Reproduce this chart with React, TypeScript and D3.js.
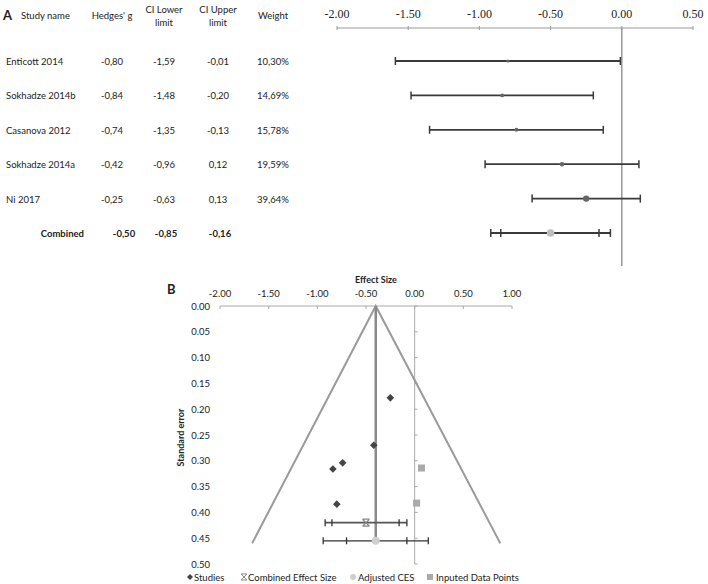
import React from "react";
import * as d3 from "d3";

// Panel A data
const studies = ["Enticott 2014", "Sokhadze 2014b", "Casanova 2012", "Sokhadze 2014a", "Ni 2017"];
const hedges = [-0.8, -0.84, -0.74, -0.42, -0.25];
const ciLower = [-1.59, -1.48, -1.35, -0.96, -0.63];
const ciUpper = [-0.01, -0.2, -0.13, 0.12, 0.13];
const weights = [10.3, 14.69, 15.78, 19.59, 39.64];
const combined = { g: -0.5, lo: -0.85, hi: -0.16, loOuter: -0.92, hiOuter: -0.08 };
const axisATicks = [-2, -1.5, -1, -0.5, 0, 0.5];

// Panel B data (funnel plot)
const studySE = [0.384, 0.316, 0.304, 0.27, 0.178];
const imputedES = [0.07, 0.02];
const imputedSE = [0.314, 0.382];
const combinedSE = 0.42;
const adjusted = { es: -0.4, se: 0.455, lo: -0.94, loInner: -0.7, hiInner: -0.08, hi: 0.14 };
const funnel: [number, number][] = [[-1.67, 0.46], [-0.4, 0], [0.88, 0.46]];
const axisBXTicks = [-2, -1.5, -1, -0.5, 0, 0.5, 1];
const axisBYTicks = [0, 0.05, 0.1, 0.15, 0.2, 0.25, 0.3, 0.35, 0.4, 0.45, 0.5];

const fmtComma = (v: number) => v.toFixed(2).replace(".", ",");
const sans = "Lato, 'Open Sans', sans-serif";

function Cap({ x, y, h, stroke, sw }: any) {
  return <line x1={x} x2={x} y1={y - h / 2} y2={y + h / 2} stroke={stroke} strokeWidth={sw} />;
}

export default function App() {
  const xA = d3.scaleLinear().domain([-2, 0.5]).range([337, 693]);
  const rowY = d3.scalePoint<number>().domain([0, 1, 2, 3, 4, 5]).range([61, 233]);
  const rScale = d3.scaleSqrt().domain([0, 40]).range([0, 3.2]);

  const xB = d3.scaleLinear().domain([-2, 1]).range([220, 512]);
  const yB = d3.scaleLinear().domain([0, 0.5]).range([306, 564]);
  const funnelLine = d3.line<[number, number]>().x((d) => xB(d[0])).y((d) => yB(d[1]));

  const colX = { name: 6, g: 112, lo: 164, hi: 218, w: 273 };
  const dark = "#3a3a3a";

  const diamond = (cx: number, cy: number, s: number) =>
    `M${cx},${cy - s}L${cx + s},${cy}L${cx},${cy + s}L${cx - s},${cy}Z`;
  const star = (cx: number, cy: number, s: number) =>
    `M${cx - s},${cy - s}L${cx + s},${cy + s}M${cx - s},${cy + s}L${cx + s},${cy - s}M${cx - s},${cy - s}L${cx + s},${cy - s}M${cx - s},${cy + s}L${cx + s},${cy + s}`;

  return (
    <svg width={708} height={584} style={{ position: "absolute", left: 0, top: 0, background: "#fff" }}
      fontFamily={sans}>
      <rect width={708} height={584} fill="#fff" />
      {/* ===== Panel A ===== */}
      <text x={3} y={20} fontSize={13} fontWeight="bold" fill="#222">A</text>
      <g fontSize={9.5} fill="#222">
        <text x={21} y={19}>Study name</text>
        <text x={colX.g} y={19} textAnchor="middle">Hedges' g</text>
        <text x={colX.lo} y={13} textAnchor="middle">CI Lower</text>
        <text x={colX.lo} y={26} textAnchor="middle">limit</text>
        <text x={colX.hi} y={13} textAnchor="middle">CI Upper</text>
        <text x={colX.hi} y={26} textAnchor="middle">limit</text>
        <text x={colX.w} y={19} textAnchor="middle">Weight</text>
        {studies.map((s, i) => (
          <g key={s}>
            <text x={colX.name} y={rowY(i)! + 4}>{s}</text>
            <text x={colX.g} y={rowY(i)! + 4} textAnchor="middle">{fmtComma(hedges[i])}</text>
            <text x={colX.lo} y={rowY(i)! + 4} textAnchor="middle">{fmtComma(ciLower[i])}</text>
            <text x={colX.hi} y={rowY(i)! + 4} textAnchor="middle">{fmtComma(ciUpper[i])}</text>
            <text x={colX.w} y={rowY(i)! + 4} textAnchor="middle">{fmtComma(weights[i])}%</text>
          </g>
        ))}
        <g fontWeight="bold">
          <text x={84} y={rowY(5)! + 4} textAnchor="end">Combined</text>
          <text x={124} y={rowY(5)! + 4} textAnchor="middle">{fmtComma(combined.g)}</text>
          <text x={166} y={rowY(5)! + 4} textAnchor="middle">{fmtComma(combined.lo)}</text>
          <text x={220} y={rowY(5)! + 4} textAnchor="middle">{fmtComma(combined.hi)}</text>
        </g>
      </g>
      {/* axis A */}
      <line x1={xA(-2)} x2={xA(0.5)} y1={28} y2={28} stroke="#999" strokeWidth={1} />
      {axisATicks.map((t) => (
        <g key={t}>
          <line x1={xA(t)} x2={xA(t)} y1={26} y2={30} stroke="#999" />
          <text x={xA(t)} y={18} textAnchor="middle" fontSize={12} fontFamily="'Liberation Serif', serif" fill="#222">
            {t.toFixed(2)}
          </text>
        </g>
      ))}
      <line x1={xA(0)} x2={xA(0)} y1={28} y2={266} stroke="#999" strokeWidth={1.5} />
      {studies.map((s, i) => {
        const y = rowY(i)!;
        return (
          <g key={s}>
            <line x1={xA(ciLower[i])} x2={xA(ciUpper[i])} y1={y} y2={y} stroke={dark} strokeWidth={1.8} />
            <Cap x={xA(ciLower[i])} y={y} h={8} stroke={dark} sw={1.5} />
            <Cap x={xA(ciUpper[i])} y={y} h={8} stroke={dark} sw={1.5} />
            <circle cx={xA(hedges[i])} cy={y} r={Math.max(1.6, rScale(weights[i]))} fill="#666" />
          </g>
        );
      })}
      {(() => {
        const y = rowY(5)!;
        return (
          <g>
            <line x1={xA(combined.loOuter)} x2={xA(combined.hiOuter)} y1={y} y2={y} stroke={dark} strokeWidth={1.8} />
            {[combined.loOuter, combined.lo, combined.hi, combined.hiOuter].map((v) => (
              <Cap key={v} x={xA(v)} y={y} h={8} stroke={dark} sw={1.5} />
            ))}
            <circle cx={xA(combined.g)} cy={y} r={3.8} fill="#bdbdbd" />
          </g>
        );
      })()}

      {/* ===== Panel B ===== */}
      <text x={167} y={294} fontSize={13} fontWeight="bold" fill="#222">B</text>
      <text x={376} y={283} fontSize={9} fontWeight="bold" textAnchor="middle" fill="#222">Effect Size</text>
      <line x1={xB(-2)} x2={xB(1)} y1={yB(0)} y2={yB(0)} stroke="#aaa" />
      {axisBXTicks.map((t) => (
        <g key={t}>
          <line x1={xB(t)} x2={xB(t)} y1={yB(0)} y2={yB(0) + 3} stroke="#aaa" />
          <text x={xB(t)} y={297} textAnchor="middle" fontSize={9.5} fill="#222">{t.toFixed(2)}</text>
        </g>
      ))}
      {axisBYTicks.map((t) => (
        <g key={t}>
          <text x={210} y={yB(t) + 3.5} textAnchor="end" fontSize={9.5} fill="#222">{t.toFixed(2)}</text>
          <line x1={xB(0)} x2={xB(0) + 3} y1={yB(t)} y2={yB(t)} stroke="#aaa" />
        </g>
      ))}
      <line x1={xB(0)} x2={xB(0)} y1={yB(0)} y2={yB(0.5)} stroke="#aaa" />
      <text transform={`translate(184,${yB(0.255)}) rotate(-90)`} textAnchor="middle" fontSize={9} fontWeight="bold" fill="#222">
        Standard error
      </text>
      <path d={funnelLine(funnel)!} fill="none" stroke="#9a9a9a" strokeWidth={2} />
      <line x1={xB(adjusted.es)} x2={xB(adjusted.es)} y1={yB(0)} y2={yB(adjusted.se)} stroke="#8a8a8a" strokeWidth={2.5} />
      {/* combined effect size */}
      <line x1={xB(combined.loOuter)} x2={xB(combined.hiOuter)} y1={yB(combinedSE)} y2={yB(combinedSE)} stroke="#555" strokeWidth={1.8} />
      {[combined.loOuter, combined.lo, combined.hi, combined.hiOuter].map((v) => (
        <Cap key={v} x={xB(v)} y={yB(combinedSE)} h={7} stroke="#333" sw={1.3} />
      ))}
      <path d={star(xB(combined.g), yB(combinedSE), 3.5)} stroke="#888" strokeWidth={1.2} fill="none" />
      {/* adjusted CES */}
      <line x1={xB(adjusted.lo)} x2={xB(adjusted.hi)} y1={yB(adjusted.se)} y2={yB(adjusted.se)} stroke="#333" strokeWidth={1.3} />
      {[adjusted.lo, adjusted.loInner, adjusted.hiInner, adjusted.hi].map((v) => (
        <Cap key={v} x={xB(v)} y={yB(adjusted.se)} h={7} stroke="#333" sw={1.3} />
      ))}
      <circle cx={xB(adjusted.es)} cy={yB(adjusted.se)} r={4} fill="#cfcfcf" />
      {/* studies */}
      {hedges.map((g, i) => (
        <path key={i} d={diamond(xB(g), yB(studySE[i]), 3.8)} fill="#444" />
      ))}
      {imputedES.map((g, i) => (
        <rect key={i} x={xB(g) - 3.5} y={yB(imputedSE[i]) - 3.5} width={7} height={7} fill="#aaa" />
      ))}
      {/* legend */}
      <g fontSize={9.5} fill="#222">
        <path d={diamond(190, 577, 3)} fill="#444" />
        <text x={194} y={580.5}>Studies</text>
        <path d={star(244, 577, 3)} stroke="#888" strokeWidth={1} fill="none" />
        <text x={248} y={580.5}>Combined Effect Size</text>
        <circle cx={353} cy={577} r={3} fill="#cfcfcf" />
        <text x={358} y={580.5}>Adjusted CES</text>
        <rect x={427} y={574} width={6} height={6} fill="#aaa" />
        <text x={436} y={580.5}>Inputed Data Points</text>
      </g>
    </svg>
  );
}
